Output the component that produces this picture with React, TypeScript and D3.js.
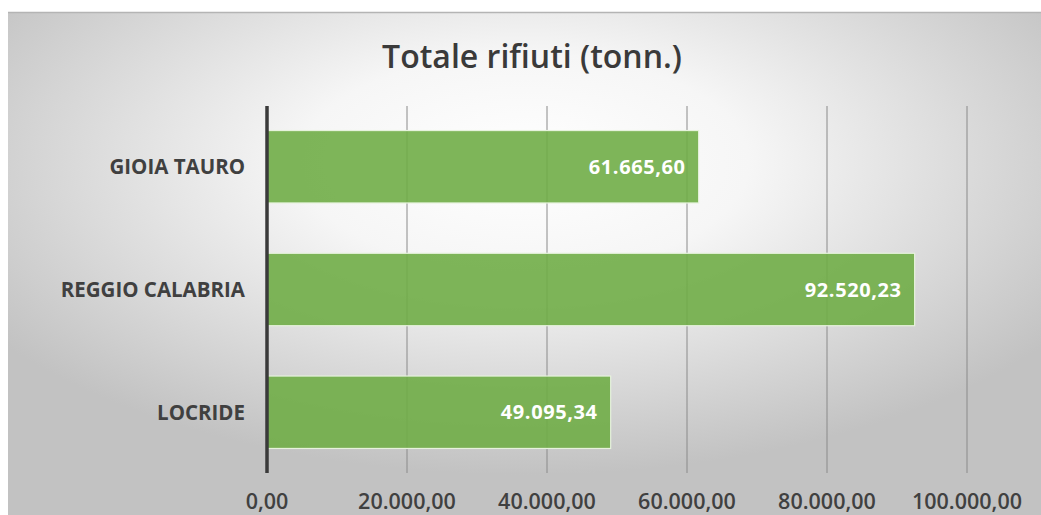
import React from "react";
import * as d3 from "d3";

const categories: string[] = ["GIOIA TAURO", "REGGIO CALABRIA", "LOCRIDE"];
const values: number[] = [61665.6, 92520.23, 49095.34];
const ticks: number[] = [0, 20000, 40000, 60000, 80000, 100000];
const title = "Totale rifiuti (tonn.)";

const fmt = (v: number) => {
  const parts = v.toFixed(2).split(".");
  const intPart = parts[0].replace(/\B(?=(\d{3})+(?!\d))/g, ".");
  return intPart + "," + parts[1];
};

export default function App() {
  const W = 1041;
  const H = 515;
  const x = d3.scaleLinear().domain([0, 100000]).range([267, 967]);
  const y = d3
    .scaleBand<string>()
    .domain(categories)
    .range([106, 473])
    .paddingInner(0.41)
    .paddingOuter(0.2);
  const font = "'Open Sans', Lato, sans-serif";
  return (
    <svg
      width={W}
      height={H}
      style={{ position: "absolute", left: 0, top: 0 }}
      xmlns="http://www.w3.org/2000/svg"
    >
      <defs>
        <radialGradient id="bg" cx="0.5" cy="0.3" r="0.62" gradientUnits="objectBoundingBox">
          <stop offset="0" stopColor="#ffffff" />
          <stop offset="0.35" stopColor="#f6f6f6" />
          <stop offset="1" stopColor="#c2c2c2" />
        </radialGradient>
      </defs>
      <rect x={0} y={0} width={W} height={H} fill="#ffffff" />
      <rect x={8} y={12} width={W - 8} height={H - 12} fill="url(#bg)" />
      <line x1={8} x2={W} y1={12.5} y2={12.5} stroke="#b4b4b4" strokeWidth={1.5} />
      <text
        x={532}
        y={68}
        textAnchor="middle"
        fontFamily={font}
        fontWeight={600}
        fontSize={32}
        fill="#3a3a3a"
      >
        {title}
      </text>
      {ticks.slice(1).map((t) => (
        <line
          key={"g" + t}
          x1={x(t)}
          x2={x(t)}
          y1={106}
          y2={473}
          stroke="#8a8a8a"
          strokeWidth={1}
        />
      ))}
      {categories.map((c, i) => (
        <g key={c}>
          <rect
            x={x(0)}
            y={y(c)}
            width={x(values[i]) - x(0)}
            height={y.bandwidth()}
            fill="#70ad47"
            fillOpacity={0.9}
            stroke="#e6f2dc"
            strokeWidth={1.2}
          />
          <text
            x={x(values[i]) - 13}
            y={(y(c) as number) + y.bandwidth() / 2}
            dy="0.36em"
            textAnchor="end"
            fontFamily={font}
            fontWeight={700}
            fontSize={20}
            letterSpacing={0.6}
            fill="#ffffff"
          >
            {fmt(values[i])}
          </text>
          <text
            x={245}
            y={(y(c) as number) + y.bandwidth() / 2}
            dy="0.36em"
            textAnchor="end"
            fontFamily={font}
            fontWeight={700}
            fontSize={20.5}
            fill="#404040"
          >
            {c}
          </text>
        </g>
      ))}
      <line x1={x(0)} x2={x(0)} y1={106} y2={473} stroke="#3a3a3a" strokeWidth={3.5} />
      {ticks.map((t) => (
        <text
          key={"t" + t}
          x={x(t)}
          y={501}
          dy="0.36em"
          textAnchor="middle"
          fontFamily={font}
          fontWeight={600}
          fontSize={21.5}
          fill="#404040"
        >
          {fmt(t)}
        </text>
      ))}
    </svg>
  );
}
